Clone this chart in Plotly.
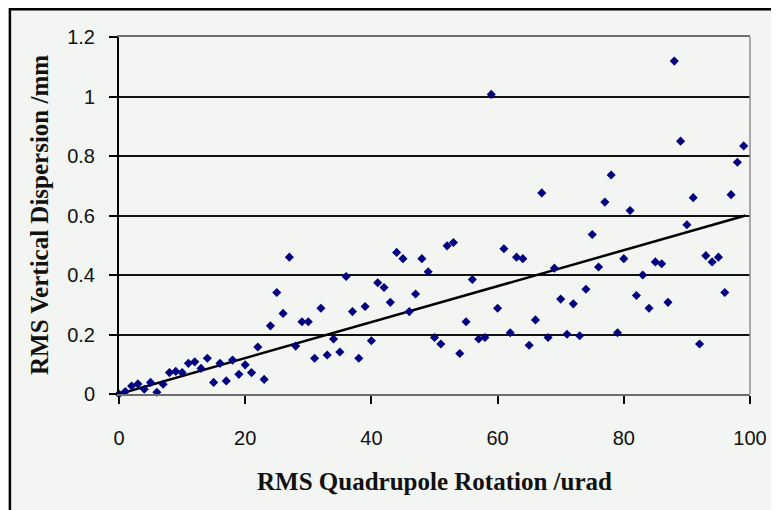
import plotly.graph_objects as go

# Data
rotation_urad = list(range(0, 100))
dispersion_mm = [
    0.000, 0.008, 0.027, 0.034, 0.016, 0.039, 0.006, 0.033, 0.072, 0.076,
    0.072, 0.103, 0.108, 0.086, 0.120, 0.039, 0.103, 0.044, 0.114, 0.066,
    0.098, 0.072, 0.158, 0.049, 0.229, 0.341, 0.271, 0.460, 0.161, 0.243,
    0.243, 0.120, 0.288, 0.131, 0.185, 0.141, 0.395, 0.277, 0.120, 0.294,
    0.179, 0.374, 0.358, 0.308, 0.476, 0.455, 0.277, 0.336, 0.455, 0.411,
    0.190, 0.168, 0.498, 0.509, 0.136, 0.243, 0.385, 0.185, 0.190, 1.007,
    0.288, 0.488, 0.206, 0.460, 0.455, 0.164, 0.249, 0.676, 0.190, 0.423,
    0.319, 0.201, 0.303, 0.196, 0.352, 0.536, 0.427, 0.645, 0.736, 0.206,
    0.455, 0.617, 0.331, 0.400, 0.288, 0.444, 0.438, 0.308, 1.119, 0.850,
    0.569, 0.660, 0.168, 0.465, 0.444, 0.460, 0.341, 0.670, 0.779, 0.834,
]
trend_x = [0, 99.3]
trend_y = [0.0, 0.6]

x_ticks = [0, 20, 40, 60, 80, 100]
y_ticks = [0, 0.2, 0.4, 0.6, 0.8, 1.0, 1.2]
y_tick_text = ["0", "0.2", "0.4", "0.6", "0.8", "1", "1.2"]

x_title = "RMS Quadrupole Rotation /urad"
y_title = "RMS Vertical Dispersion /mm"

# The page body has an 8px margin, so the figure is 8px smaller
W, H = 771, 502
L, R, T, B = 111, 25, 29, 116
PW, PH = W - L - R, H - T - B


def px(xp):
    return (xp - L) / PW


def py(yp):
    return (H - B - yp) / PH


BG = "#f2f5f2"

fig = go.Figure()
fig.add_trace(go.Scatter(
    x=trend_x, y=trend_y, mode="lines",
    line=dict(color="black", width=2.5),
    hoverinfo="skip", showlegend=False,
))
fig.add_trace(go.Scatter(
    x=rotation_urad, y=dispersion_mm, mode="markers",
    marker=dict(symbol="diamond", size=7, color="#000080"),
    cliponaxis=False, showlegend=False,
))

fig.update_layout(
    width=W, height=H,
    margin=dict(l=L, r=R, t=T, b=B, pad=0),
    paper_bgcolor="white",
    plot_bgcolor=BG,
    showlegend=False,
    font=dict(family="Liberation Sans, Arial, sans-serif", size=20, color="#111"),
    shapes=[
        # outer chart area with black frame (left & top visible)
        dict(type="rect", xref="paper", yref="paper",
             x0=px(1.2), x1=px(W + 20), y0=py(H + 20), y1=py(1.2),
             fillcolor=BG, line=dict(color="black", width=2.5), layer="below"),
        # right frame of plot area
        dict(type="line", xref="paper", yref="paper",
             x0=1, x1=1, y0=0, y1=1,
             line=dict(color="#8c8c8c", width=1.5)),
    ],
    annotations=[
        dict(text=x_title, xref="paper", yref="paper",
             x=0.5, y=py(473), xanchor="center", yanchor="middle",
             showarrow=False,
             font=dict(family="Liberation Serif, Times New Roman, serif",
                       size=25, color="#111", weight="bold")),
        dict(text=y_title, xref="paper", yref="paper",
             x=px(31), y=0.5, xanchor="center", yanchor="middle",
             textangle=-90, showarrow=False,
             font=dict(family="Liberation Serif, Times New Roman, serif",
                       size=25, color="#111", weight="bold")),
    ],
)

fig.update_xaxes(
    range=[0, 100], tickvals=x_ticks,
    showgrid=False, zeroline=False,
    showline=True, linecolor="#6e6e6e", linewidth=1.5, mirror=True,
    ticks="outside", ticklen=8, tickwidth=1.5, tickcolor="black",
    ticklabelstandoff=17,
)
fig.update_yaxes(
    range=[0, 1.2], tickvals=y_ticks, ticktext=y_tick_text,
    showgrid=True, gridcolor="#111111", gridwidth=2,
    zeroline=False,
    showline=True, linecolor="black", linewidth=2,
    ticks="outside", ticklen=8, tickwidth=1.5, tickcolor="black",
    ticklabelstandoff=10,
)

fig.write_html("out.html")
